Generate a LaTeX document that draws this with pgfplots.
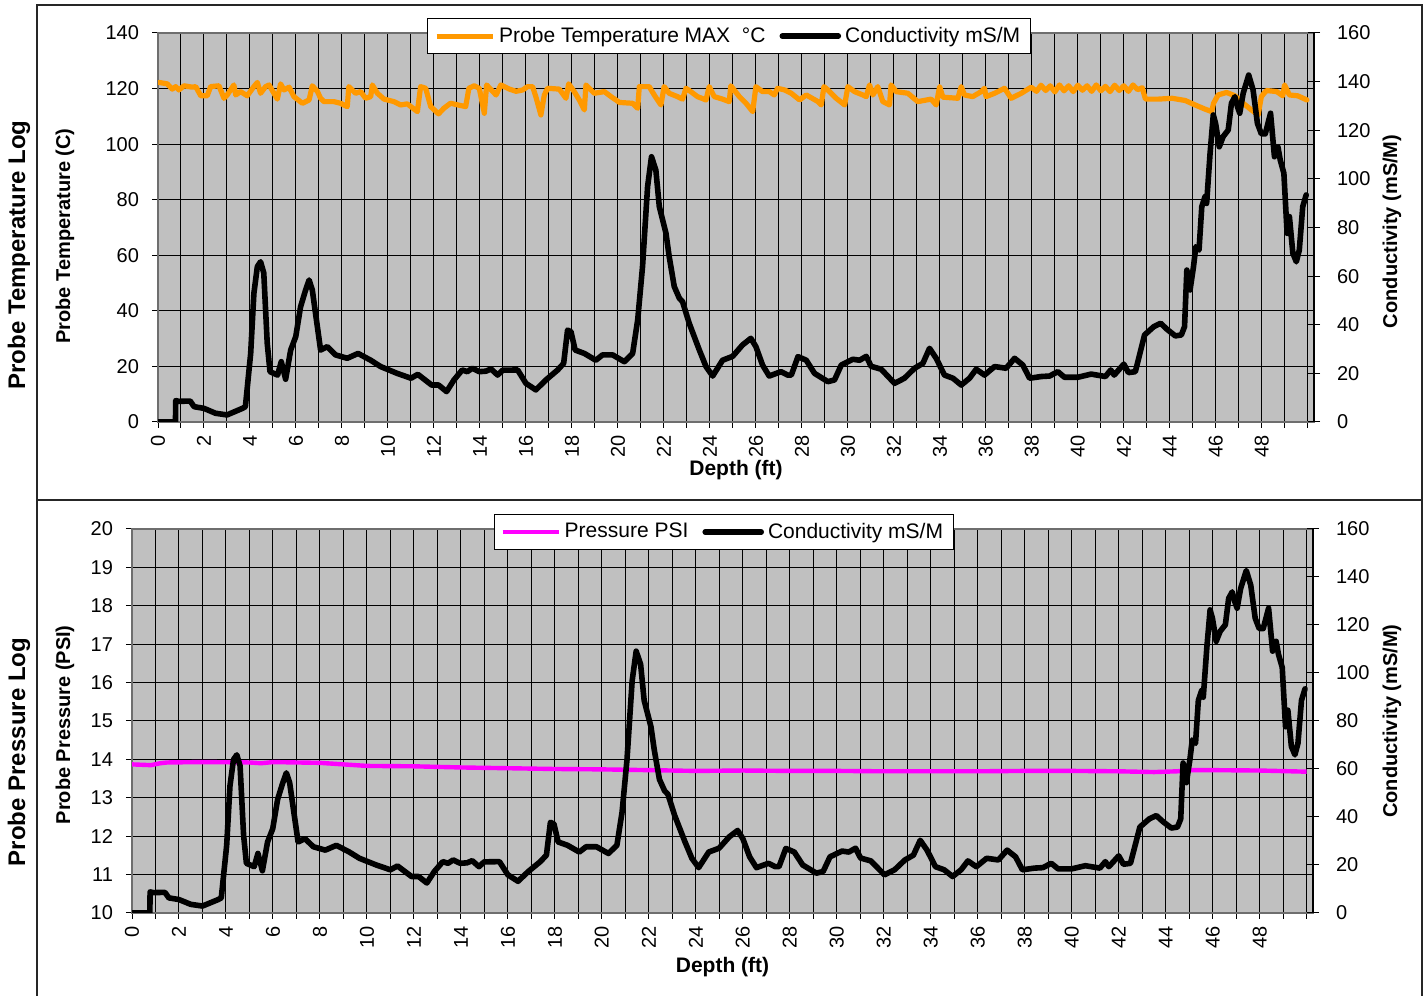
\documentclass[border=0pt]{standalone}
\usepackage{fontspec}
\setmainfont{Liberation Sans}
\usepackage{pgfplots}
\usepackage{pgfplotstable}
\pgfplotsset{compat=1.18}

\definecolor{plotbg}{RGB}{192,192,192}
\definecolor{tempcol}{RGB}{255,153,0}
\definecolor{presscol}{RGB}{255,0,255}
\definecolor{framegray}{RGB}{110,110,110}

% Conductivity log (mS/M) against depth (ft)
\pgfplotstableread{
depth cond
0 0
0.76 0
0.77 8.8
0.9 8.5
1.4 8.6
1.57 6.3
2.0 5.6
2.5 3.6
3.0 2.9
3.67 5.6
3.8 6.3
4.03 28.2
4.17 52.9
4.32 63.9
4.46 65.9
4.6 61.3
4.75 32.4
4.87 20.7
5.2 19.3
5.36 24.8
5.55 17.6
5.77 29.6
5.99 35.1
6.2 47.4
6.42 54.3
6.57 58.4
6.71 54.3
6.93 39.2
7.07 29.6
7.36 31.0
7.72 27.6
8.23 26.2
8.7 28.2
9.25 25.4
9.68 22.8
10.4 20.0
11.0 18.0
11.3 19.6
11.9 15.2
12.2 15.2
12.55 12.5
12.87 17.3
13.23 21.4
13.45 20.7
13.67 22.1
13.97 20.7
14.26 20.9
14.48 21.8
14.77 19.3
14.99 21.3
15.64 21.4
16.0 15.9
16.43 13.2
16.87 17.3
17.38 21.4
17.64 24.1
17.81 37.8
17.96 37.1
18.14 29.6
18.54 28.2
19.04 25.4
19.33 27.6
19.77 27.6
20.28 24.8
20.64 28.2
20.86 42.0
21.07 63.9
21.29 96.8
21.46 109.1
21.65 103.6
21.8 88.6
22.09 77.6
22.23 68.0
22.45 55.7
22.67 50.9
22.81 49.5
23.1 40.6
23.54 29.6
23.83 22.8
24.12 18.9
24.55 25.4
24.99 27.0
25.42 31.7
25.78 34.4
26.0 31.0
26.29 23.4
26.58 18.9
27.09 20.7
27.38 19.3
27.54 19.3
27.83 26.9
28.19 25.4
28.55 20.0
29.13 16.6
29.42 17.3
29.71 23.4
30.22 25.8
30.51 25.4
30.8 27.0
31.01 22.9
31.45 21.7
32.03 15.9
32.46 18.0
32.9 22.1
33.26 24.1
33.55 30.3
33.84 26.2
34.2 19.3
34.57 18.0
34.93 15.2
35.29 18.0
35.58 21.7
35.94 19.3
36.38 22.8
36.88 22.1
37.25 26.2
37.61 23.4
37.9 18.0
38.41 18.7
38.77 18.9
39.13 20.7
39.42 18.4
40.0 18.4
40.58 19.7
41.2 18.7
41.43 21.4
41.58 19.3
42.0 23.8
42.2 20.3
42.5 20.7
42.7 28.2
42.9 35.8
43.3 39.2
43.6 40.6
43.88 38.1
44.24 35.4
44.5 35.8
44.64 39.2
44.74 62.5
44.88 54.3
45.03 63.9
45.13 72.1
45.27 70.7
45.39 88.6
45.53 92.7
45.6 89.9
45.75 110.5
45.89 126.3
45.99 122.8
46.15 113.2
46.32 117.4
46.54 120.1
46.68 131.1
46.83 133.8
46.94 129.7
47.04 127.0
47.19 135.2
47.43 142.7
47.62 136.6
47.81 122.8
47.98 118.5
48.15 118.5
48.38 127.0
48.55 109.1
48.7 113.2
48.8 107.8
48.96 102.3
49.1 77.6
49.2 84.5
49.35 69.4
49.5 65.9
49.63 70.7
49.78 88.6
49.93 93.4
}\condtable

% Maximum probe temperature (C) against depth (ft)
\pgfplotstableread{
depth temp
0.04 122.2
0.4 121.7
0.62 119.8
0.77 120.7
0.91 119.5
1.13 121.0
1.49 120.5
1.64 120.7
1.86 117.4
2.14 117.4
2.29 120.7
2.65 121.0
2.87 116.5
3.01 117.7
3.3 121.3
3.38 117.7
3.59 118.9
3.88 117.4
4.17 120.7
4.32 122.2
4.46 118.3
4.68 120.7
4.83 121.3
5.19 116.2
5.33 121.7
5.48 119.5
5.7 120.5
5.91 117.1
6.28 114.7
6.57 115.9
6.71 121.0
6.93 119.0
7.07 116.5
7.22 115.3
7.65 115.3
7.94 114.7
8.23 113.5
8.3 120.7
8.59 118.3
8.81 118.9
9.03 116.5
9.25 117.1
9.32 121.3
9.54 118.3
9.83 116.2
10.26 115.3
10.55 114.1
10.84 114.5
11.28 111.7
11.42 120.7
11.64 120.1
11.86 113.5
12.2 110.9
12.43 112.9
12.72 114.7
13.38 113.5
13.52 120.1
13.75 121.0
13.97 120.1
14.19 111.1
14.29 121.3
14.7 117.7
14.91 121.3
15.28 119.8
15.57 119.0
15.86 119.5
16.07 120.7
16.29 120.7
16.43 117.1
16.65 110.5
16.8 117.7
16.94 120.1
17.45 119.8
17.74 116.5
17.86 121.7
18.1 118.9
18.32 115.9
18.54 112.3
18.61 121.3
18.97 118.3
19.41 118.9
19.7 117.1
20.07 115.0
20.64 114.7
20.86 112.9
20.93 120.7
21.36 120.7
21.58 117.7
21.87 114.1
22.01 120.7
22.23 118.3
22.59 117.1
22.81 116.2
22.96 120.1
23.17 118.9
23.46 117.1
23.83 115.9
23.97 120.7
24.19 117.1
24.55 116.2
24.84 115.3
24.91 121.0
25.28 117.1
25.57 114.7
25.86 111.7
26.0 120.7
26.29 118.9
26.58 118.9
26.8 117.7
26.94 120.1
27.25 119.5
27.54 118.3
27.9 115.9
28.19 117.7
28.7 115.3
28.84 114.1
28.96 120.7
29.13 119.5
29.49 116.5
29.86 114.1
30.0 120.7
30.29 118.9
30.65 117.7
30.8 117.1
30.94 121.3
31.09 117.7
31.3 120.7
31.52 115.3
31.81 114.1
31.88 121.3
32.1 118.9
32.61 118.3
33.04 115.3
33.62 116.2
33.84 114.1
33.99 120.7
34.13 116.9
34.78 116.5
34.93 120.7
35.07 117.7
35.43 117.1
35.8 118.9
35.94 120.1
36.01 117.1
36.38 118.3
36.81 120.1
37.1 116.5
37.54 118.3
37.97 120.5
38.2 119.0
38.4 121.2
38.6 119.3
38.8 121.0
39.0 118.8
39.2 121.3
39.4 119.2
39.6 121.0
39.8 118.9
40.0 121.2
40.2 119.4
40.4 121.0
40.6 119.0
40.8 121.3
41.0 119.2
41.2 120.8
41.4 118.9
41.6 121.2
41.8 119.3
42.0 121.0
42.2 119.0
42.4 121.3
42.6 119.6
42.8 120.3
42.94 116.2
43.5 116.2
44.1 116.5
44.67 115.7
45.1 114.1
45.53 112.6
45.82 111.7
45.9 114.7
46.1 117.7
46.47 118.6
46.83 117.4
47.19 114.7
47.55 112.3
47.84 110.5
47.98 117.1
48.2 119.3
48.65 118.9
48.91 117.4
48.99 121.3
49.2 117.7
49.56 117.4
49.96 115.9
}\temptable

% Probe pressure (PSI) against depth (ft)
\pgfplotstableread{
depth psi
0 13.87
0.8 13.85
1.2 13.90
1.5 13.92
3 13.93
5 13.92
5.5 13.90
6 13.93
8 13.91
9 13.87
10 13.83
12 13.82
14 13.79
16 13.77
18 13.75
20 13.74
22 13.72
24 13.70
26 13.71
28 13.70
30 13.70
32 13.69
34 13.69
36 13.69
38 13.70
40 13.70
42 13.69
43.5 13.67
44.5 13.69
45 13.72
46 13.72
48 13.71
50 13.68
}\presstable

\pgfplotsset{
  /pgf/number format/assume math mode=true,
  logbase/.style={
    scale only axis,
    xmin=0, xmax=50.27,
    tick align=center,
    major tick length=6pt, minor tick length=6pt,
    every tick/.style={black, line width=0.5pt},
    ticklabel style={font=\fontsize{10}{12}\selectfont},
    label style={font=\bfseries\fontsize{10}{12}\selectfont},
  },
  leftaxis/.style={
    logbase,
    xtick={0,2,...,48}, minor xtick={1,3,...,49,50},
    xtick pos=bottom, ytick pos=left,
    xmajorgrids, xminorgrids, ymajorgrids,
    major grid style={black, line width=0.5pt},
    minor grid style={black, line width=0.5pt},
    axis background/.style={fill=plotbg},
    axis line style={framegray, line width=1.2pt},
    xticklabel style={rotate=90, anchor=east},
    yticklabel style={xshift=-3pt},
    xlabel={Depth (ft)},
    xlabel style={font=\bfseries\fontsize{10.5}{12}\selectfont},
  },
  rightaxis/.style={
    logbase,
    axis x line=none,
    axis y line*=right,
    ymin=0, ymax=160, ytick={0,20,...,160},
    yticklabel style={xshift=5pt},
    axis line style={black, line width=0.8pt},
    ylabel={Conductivity (mS/M)},
    legend columns=2,
    legend style={draw=black, line width=0.5pt, fill=white,
      font=\fontsize{10.5}{12}\selectfont, inner xsep=3pt, inner ysep=2pt,
      /tikz/every even column/.append style={column sep=5pt}},
    legend image code/.code={\draw[##1] (0pt,0pt) -- (28pt,0pt);},
  },
  condline/.style={black, line width=2.8pt, line join=round, line cap=round},
}

\begin{document}
\begin{tikzpicture}
\useasboundingbox (0,0) rectangle (713pt,498pt);

% panel frames
\draw[line width=1pt, black!85] (18.5pt,0pt) -- (18.5pt,495.5pt) -- (711pt,495.5pt) -- (711pt,0pt);
\draw[line width=1pt, black!85] (18.5pt,248pt) -- (711pt,248pt);

\node[rotate=90, font=\bfseries\fontsize{12}{14}\selectfont] at (9.5pt,370.5pt) {Probe Temperature Log};
\node[rotate=90, font=\bfseries\fontsize{12}{14}\selectfont] at (9.5pt,122pt) {Probe Pressure Log};

% ---- temperature panel ----
\begin{axis}[leftaxis,
  at={(79pt,287pt)}, anchor=south west,
  width=578pt, height=194.5pt,
  ymin=0, ymax=140, ytick={0,20,...,140},
  ylabel={Probe Temperature (C)},
  ylabel style={at={(axis description cs:-0.0804,0.478)}, anchor=center},
  xlabel style={at={(axis description cs:0.5,-0.123)}, anchor=center},
]
\addplot[tempcol, line width=2.6pt, line join=round, line cap=round] table[x=depth, y=temp] {\temptable};
\end{axis}
\begin{axis}[rightaxis,
  at={(79pt,287pt)}, anchor=south west,
  width=578pt, height=194.5pt,
  ylabel style={at={(axis description cs:1.0675,0.49)}, anchor=center},
  legend style={at={(axis description cs:0.494,0.992)}, anchor=center},
]
\addlegendimage{tempcol, line width=2.6pt}
\addlegendentry{Probe Temperature MAX\ \ °C}
\addplot[condline] table[x=depth, y=cond] {\condtable};
\addlegendentry{Conductivity mS/M}
\end{axis}

% ---- pressure panel ----
\begin{axis}[leftaxis,
  at={(66pt,41.5pt)}, anchor=south west,
  width=590.5pt, height=192pt,
  ymin=10, ymax=20, ytick={10,...,20},
  ylabel={Probe Pressure (PSI)},
  ylabel style={at={(axis description cs:-0.0567,0.49)}, anchor=center},
  xlabel style={at={(axis description cs:0.5,-0.1406)}, anchor=center},
]
\addplot[presscol, line width=2.2pt, line join=round] table[x=depth, y=psi] {\presstable};
\end{axis}
\begin{axis}[rightaxis,
  at={(66pt,41.5pt)}, anchor=south west,
  width=590.5pt, height=192pt,
  ylabel style={at={(axis description cs:1.0669,0.5)}, anchor=center},
  legend style={at={(axis description cs:0.501,0.992)}, anchor=center},
]
\addlegendimage{presscol, line width=2.2pt}
\addlegendentry{Pressure PSI}
\addplot[condline] table[x=depth, y=cond] {\condtable};
\addlegendentry{Conductivity mS/M}
\end{axis}
\end{tikzpicture}
\end{document}
